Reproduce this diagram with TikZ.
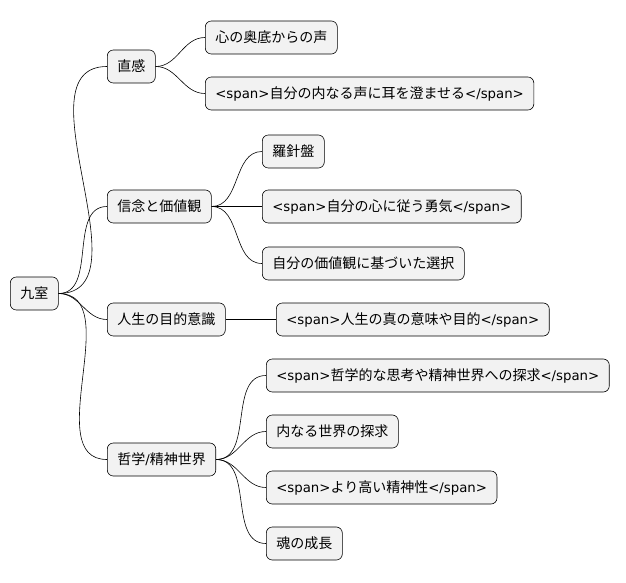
\documentclass[tikz,border=0pt]{standalone}
\usepackage{fontspec}
\setmainfont{Noto Sans CJK JP}
\newfontfamily\lat{DejaVu Sans}[Scale=0.95]
\newcommand{\sO}{{\lat <span>}}
\newcommand{\sC}{{\lat </span>}}
\begin{document}
\begin{tikzpicture}[x=1pt,y=-1pt,
  box/.style={draw=black,line width=0.6pt,fill=gray!10,rounded corners=6pt,anchor=west,
    minimum height=33pt,inner xsep=10pt,font=\fontsize{14}{16}\selectfont},
  link/.style={draw=black,line width=0.6pt}]
\useasboundingbox (0,0) rectangle (626,583);
\node[box] (r) at (10,293.5) {九室};
\node[box] (a) at (107,66.5) {直感};
\node[box] (a1) at (205,37.5) {心の奥底からの声};
\node[box] (a2) at (205,93.5) {\sO 自分の内なる声に耳を澄ませる\sC};
\node[box] (b) at (107,206.5) {信念と価値観};
\node[box] (b1) at (262,151.5) {羅針盤};
\node[box] (b2) at (262,206.5) {\sO 自分の心に従う勇気\sC};
\node[box] (b3) at (262,263.5) {自分の価値観に基づいた選択};
\node[box] (c) at (107,319.5) {人生の目的意識};
\node[box] (c1) at (276,319.5) {\sO 人生の真の意味や目的\sC};
\node[box] (d) at (107,459.5) {哲学{\lat /}精神世界};
\node[box] (d1) at (266,375.5) {\sO 哲学的な思考や精神世界への探求\sC};
\node[box] (d2) at (266,431.5) {内なる世界の探求};
\node[box] (d3) at (266,487.5) {\sO より高い精神性\sC};
\node[box] (d4) at (266,543.5) {魂の成長};
\foreach \p/\c in {r/a,r/b,r/c,r/d,a/a1,a/a2,b/b1,b/b2,b/b3,c/c1,d/d1,d/d2,d/d3,d/d4}
  \draw[link] (\p.east) to[out=0,in=180] (\c.west);
\end{tikzpicture}
\end{document}
